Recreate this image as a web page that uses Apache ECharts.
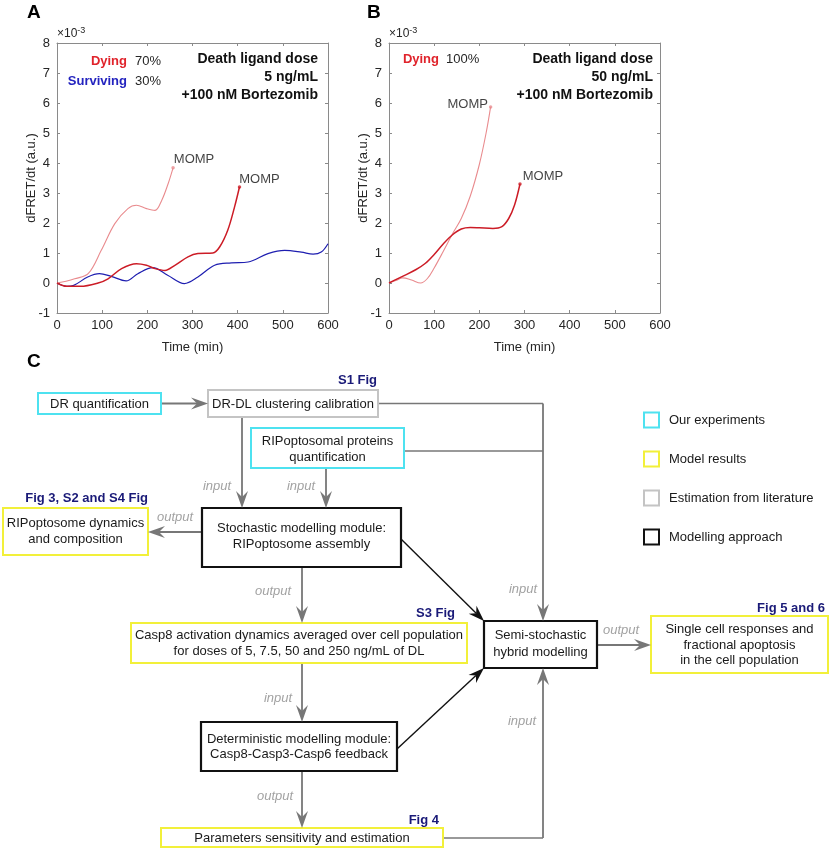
<!DOCTYPE html>
<html><head><meta charset="utf-8">
<script src="https://cdn.jsdelivr.net/npm/echarts@6/dist/echarts.min.js"></script>
<style>html,body{margin:0;padding:0;background:#fff}#c{width:831px;height:850px}</style>
</head><body><div id="c"></div>
<script>
// ---------- DATA (values in units of 1e-3) ----------
// Panel A: 5 ng/mL + 100 nM Bortezomib
const aDying1T = [0, 20, 39, 69, 98, 128, 157, 176, 198, 217, 232, 246, 257];
const aDying1V = [0, 0.06, 0.14, 0.31, 1.09, 1.98, 2.48, 2.59, 2.48, 2.42, 2.76, 3.31, 3.84];
const aDying2T = [0, 22, 52, 91, 113, 143, 176, 198, 217, 239, 261, 290, 312, 345, 360, 378, 393, 404];
const aDying2V = [0, -0.11, -0.11, 0, 0.14, 0.48, 0.64, 0.59, 0.48, 0.42, 0.59, 0.87, 0.98, 1.0, 1.2, 1.76, 2.53, 3.2];
const aSurvT = [0, 22, 37, 68, 94, 120, 153, 179, 212, 245, 282, 312, 349, 386, 423, 467, 504, 541, 567, 585, 600];
const aSurvV = [0, -0.11, -0.08, 0.2, 0.31, 0.22, 0.07, 0.31, 0.51, 0.26, -0.02, 0.2, 0.59, 0.67, 0.7, 0.98, 1.09, 1.03, 0.96, 1.03, 1.31];
// Panel B: 50 ng/mL + 100 nM Bortezomib
const bDying1T = [0, 15, 30, 50, 70, 85, 100, 120, 141, 160, 180, 200, 215, 225];
const bDying1V = [0, 0.08, 0.17, 0.1, 0, 0.15, 0.5, 1.05, 1.65, 2.15, 2.9, 3.95, 5.0, 5.87];
const bDying2T = [0, 30, 60, 80, 100, 120, 140, 160, 180, 200, 230, 250, 265, 278, 290];
const bDying2V = [0, 0.22, 0.45, 0.65, 0.95, 1.3, 1.6, 1.8, 1.85, 1.84, 1.82, 1.88, 2.15, 2.6, 3.3];
const endLabel = 'MOMP';
const xTickMin = 0, xTickMax = 600, xTickStep = 100;
const yTickMin = -1, yTickMax = 8, yTickStep = 1;

// ---------- RENDER ----------
const FF = '"Liberation Sans", Arial, Helvetica, sans-serif';
const chart = echarts.init(document.getElementById('c'));
const pairs = (t, v) => t.map((x, i) => [x, v[i]]);
const last = (t, v) => [t[t.length - 1], v[v.length - 1]];
const frame = '#8a8a8a';
const PINK = '#e98b8e', DARK = '#cc1c26', BLUE = '#1e1eb0';

function xAx(g, pos, lab) {
  return {gridIndex: g, type: 'value', min: xTickMin, max: xTickMax, interval: xTickStep, position: pos,
    axisLine: {show: true, onZero: false, lineStyle: {color: frame, width: 1}},
    axisTick: {show: true, inside: true, length: 3, lineStyle: {color: frame}},
    axisLabel: {show: lab, color: '#262626', fontSize: 13, fontFamily: FF, margin: 6},
    splitLine: {show: false},
    name: lab ? 'Time (min)' : '', nameLocation: 'middle', nameGap: 28, nameMoveOverlap: false,
    nameTextStyle: {color: '#262626', fontSize: 13, fontFamily: FF}};
}
function yAx(g, pos, lab) {
  return {gridIndex: g, type: 'value', min: yTickMin, max: yTickMax, interval: yTickStep, position: pos,
    axisLine: {show: true, onZero: false, lineStyle: {color: frame, width: 1}},
    axisTick: {show: true, inside: true, length: 3, lineStyle: {color: frame}},
    axisLabel: {show: lab, color: '#262626', fontSize: 13, fontFamily: FF, margin: 7},
    splitLine: {show: false},
    name: lab ? 'dFRET/dt (a.u.)' : '', nameLocation: 'middle', nameGap: 19, nameMoveOverlap: false,
    nameTextStyle: {color: '#262626', fontSize: 13, fontFamily: FF}};
}
function line(xi, t, v, col, w) {
  return {type: 'line', xAxisIndex: xi, yAxisIndex: xi, data: pairs(t, v), smooth: 0.35,
    showSymbol: false, symbol: 'none', lineStyle: {color: col, width: w}, itemStyle: {color: col}, silent: true, z: 3};
}
function endPt(xi, t, v, col, pos, off) {
  return {type: 'scatter', xAxisIndex: xi, yAxisIndex: xi, data: [last(t, v)], symbolSize: 3.5,
    itemStyle: {color: col}, silent: true, z: 4,
    label: {show: true, formatter: endLabel, position: pos, distance: 1, offset: off,
      color: '#111', fontSize: 13, fontFamily: FF}};
}

const series = [
  line(0, aSurvT, aSurvV, BLUE, 1.2),
  line(0, aDying1T, aDying1V, PINK, 1.1),
  line(0, aDying2T, aDying2V, DARK, 1.5),
  line(2, bDying1T, bDying1V, PINK, 1.1),
  line(2, bDying2T, bDying2V, DARK, 1.5),
  endPt(0, aDying1T, aDying1V, PINK, 'right', [-2, -8]),
  endPt(0, aDying2T, aDying2V, DARK, 'right', [-3, -8]),
  endPt(2, bDying1T, bDying1V, PINK, 'left', [0, -2]),
  endPt(2, bDying2T, bDying2V, DARK, 'right', [0, -8])
];

// ---------- graphic helpers ----------
const G = [];
function T(x, y, text, o) {
  o = o || {};
  G.push({type: 'text', x: x, y: y, silent: true, z: 10, rotation: o.rot || 0,
    style: {text: text, fill: o.c || '#1a1a1a', align: o.a || 'center', verticalAlign: 'middle',
      fontSize: o.s || 13, fontFamily: FF, fontWeight: o.b ? 'bold' : 'normal',
      fontStyle: o.i ? 'italic' : 'normal', lineHeight: o.lh || 16, rich: o.rich}});
}
function R(x, y, w, h, col, lw) {
  G.push({type: 'rect', silent: true, z: 5, shape: {x: x, y: y, width: w, height: h},
    style: {fill: '#fff', stroke: col, lineWidth: lw || 2}});
}
function L(pts, col, lw) {
  G.push({type: 'polyline', silent: true, z: 4, shape: {points: pts}, style: {stroke: col, lineWidth: lw, fill: null}});
}
function A(x1, y1, x2, y2, col, lw, Ln, W, N) {
  const dx = x2 - x1, dy = y2 - y1, len = Math.hypot(dx, dy), ux = dx / len, uy = dy / len, nx = -uy, ny = ux;
  const bx = x2 - ux * Ln, by = y2 - uy * Ln, ex = x2 - ux * (Ln - N), ey = y2 - uy * (Ln - N);
  L([[x1, y1], [ex, ey]], col, lw);
  G.push({type: 'polygon', silent: true, z: 6,
    shape: {points: [[x2, y2], [bx + nx * W / 2, by + ny * W / 2], [ex, ey], [bx - nx * W / 2, by - ny * W / 2]]},
    style: {fill: col}});
}

// Panel letters
T(27, 13, 'A', {s: 19, b: true, a: 'left', c: '#000'});
T(367, 13, 'B', {s: 19, b: true, a: 'left', c: '#000'});
T(27, 362, 'C', {s: 19, b: true, a: 'left', c: '#000'});
// exponent labels
const expRich = {m: {fontSize: 12, fontFamily: FF, fill: '#262626'}, s: {fontSize: 9, fontFamily: FF, fill: '#262626', verticalAlign: 'top', padding: [0, 0, 8, 0]}};
T(57, 34, '{m|×10}{s|-3}', {a: 'left', rich: expRich});
T(389, 34, '{m|×10}{s|-3}', {a: 'left', rich: expRich});
// Panel A annotations
T(127, 61, 'Dying', {b: true, a: 'right', c: '#e0232b'});
T(135, 61, '70%', {a: 'left', c: '#262626'});
T(127, 81, 'Surviving', {b: true, a: 'right', c: '#2323bf'});
T(135, 81, '30%', {a: 'left', c: '#262626'});
T(318, 59, 'Death ligand dose', {b: true, a: 'right', s: 14, c: '#111'});
T(318, 77, '5 ng/mL', {b: true, a: 'right', s: 14, c: '#111'});
T(318, 95, '+100 nM Bortezomib', {b: true, a: 'right', s: 14, c: '#111'});
// Panel B annotations
T(439, 59, 'Dying', {b: true, a: 'right', c: '#e0232b'});
T(446, 59, '100%', {a: 'left', c: '#262626'});
T(653, 59, 'Death ligand dose', {b: true, a: 'right', s: 14, c: '#111'});
T(653, 77, '50 ng/mL', {b: true, a: 'right', s: 14, c: '#111'});
T(653, 95, '+100 nM Bortezomib', {b: true, a: 'right', s: 14, c: '#111'});

// ---------- flowchart ----------
const CY = '#4ee2f0', YE = '#f2f03a', GR = '#c4c4c4', BK = '#111', AR = '#777';
const NAVY = '#1a1a78', LBL = '#a2a2a2';
// connector lines
L([[378, 403.5], [543, 403.5]], AR, 1.5);
L([[404, 451], [543, 451]], AR, 1.5);
L([[443, 838], [543, 838]], AR, 1.5);
// gray arrows
A(161, 403.5, 208, 403.5, AR, 1.8, 17, 12, 6);
A(242, 417, 242, 508, AR, 1.8, 17, 12, 6);
A(326, 468, 326, 508, AR, 1.8, 17, 12, 6);
A(202, 532, 148, 532, AR, 1.8, 17, 12, 6);
A(302, 567, 302, 623, AR, 1.8, 17, 12, 6);
A(302, 663, 302, 722, AR, 1.8, 17, 12, 6);
A(302, 771, 302, 828, AR, 1.8, 17, 12, 6);
A(543, 403.5, 543, 621, AR, 1.8, 17, 12, 6);
A(543, 838, 543, 668, AR, 1.8, 17, 12, 6);
A(597, 645, 651, 645, AR, 1.8, 17, 12, 6);
// black arrows
A(401, 539, 484, 621, BK, 1.4, 16, 11, 5);
A(397, 749, 484, 668, BK, 1.4, 16, 11, 5);
// boxes
R(38, 393, 123, 21, CY); T(99.5, 404, 'DR quantification');
R(208, 390, 170, 27, GR); T(293, 404, 'DR-DL clustering calibration');
R(251, 428, 153, 40, CY); T(327.5, 449, 'RIPoptosomal proteins\nquantification');
R(202, 508, 199, 59, BK, 2.2); T(301.5, 536, 'Stochastic modelling module:\nRIPoptosome assembly');
R(3, 508, 145, 47, YE); T(75.5, 531, 'RIPoptosome dynamics\nand composition');
R(131, 623, 336, 40, YE); T(299, 643, 'Casp8 activation dynamics averaged over cell population\nfor doses of 5, 7.5, 50 and 250 ng/mL of DL');
R(484, 621, 113, 47, BK, 2.2); T(540.5, 644, 'Semi-stochastic\nhybrid modelling', {lh: 17});
R(651, 616, 177, 57, YE); T(739.5, 645, 'Single cell responses and\nfractional apoptosis\nin the cell population', {lh: 15.5});
R(201, 722, 196, 49, BK, 2.2); T(299, 747, 'Deterministic modelling module:\nCasp8-Casp3-Casp6 feedback', {lh: 15});
R(161, 828, 282, 19, YE); T(302, 838, 'Parameters sensitivity and estimation');
// figure refs
T(377, 380, 'S1 Fig', {b: true, a: 'right', c: NAVY});
T(148, 498, 'Fig 3, S2 and S4 Fig', {b: true, a: 'right', c: NAVY});
T(455, 613, 'S3 Fig', {b: true, a: 'right', c: NAVY});
T(825, 608, 'Fig 5 and 6', {b: true, a: 'right', c: NAVY});
T(439, 820, 'Fig 4', {b: true, a: 'right', c: NAVY});
// input/output labels
T(217, 486, 'input', {i: true, c: LBL});
T(301, 486, 'input', {i: true, c: LBL});
T(175, 517, 'output', {i: true, c: LBL});
T(273, 591, 'output', {i: true, c: LBL});
T(523, 589, 'input', {i: true, c: LBL});
T(621, 630, 'output', {i: true, c: LBL});
T(278, 698, 'input', {i: true, c: LBL});
T(275, 796, 'output', {i: true, c: LBL});
T(522, 721, 'input', {i: true, c: LBL});
// legend
const legItems = [['Our experiments', CY], ['Model results', YE], ['Estimation from literature', GR], ['Modelling approach', BK]];
legItems.forEach((it, i) => {
  const cy = 420 + i * 39;
  R(644, cy - 7.5, 15, 15, it[1], 2);
  T(669, cy, it[0], {a: 'left'});
});

chart.setOption({
  backgroundColor: '#fff',
  animation: false,
  textStyle: {fontFamily: FF},
  grid: [
    {left: 57, top: 43, width: 271, height: 270, show: false},
    {left: 389, top: 43, width: 271, height: 270, show: false}
  ],
  xAxis: [xAx(0, 'bottom', true), xAx(0, 'top', false), xAx(1, 'bottom', true), xAx(1, 'top', false)],
  yAxis: [yAx(0, 'left', true), yAx(0, 'right', false), yAx(1, 'left', true), yAx(1, 'right', false)],
  series: series,
  graphic: G
});
</script></body></html>
